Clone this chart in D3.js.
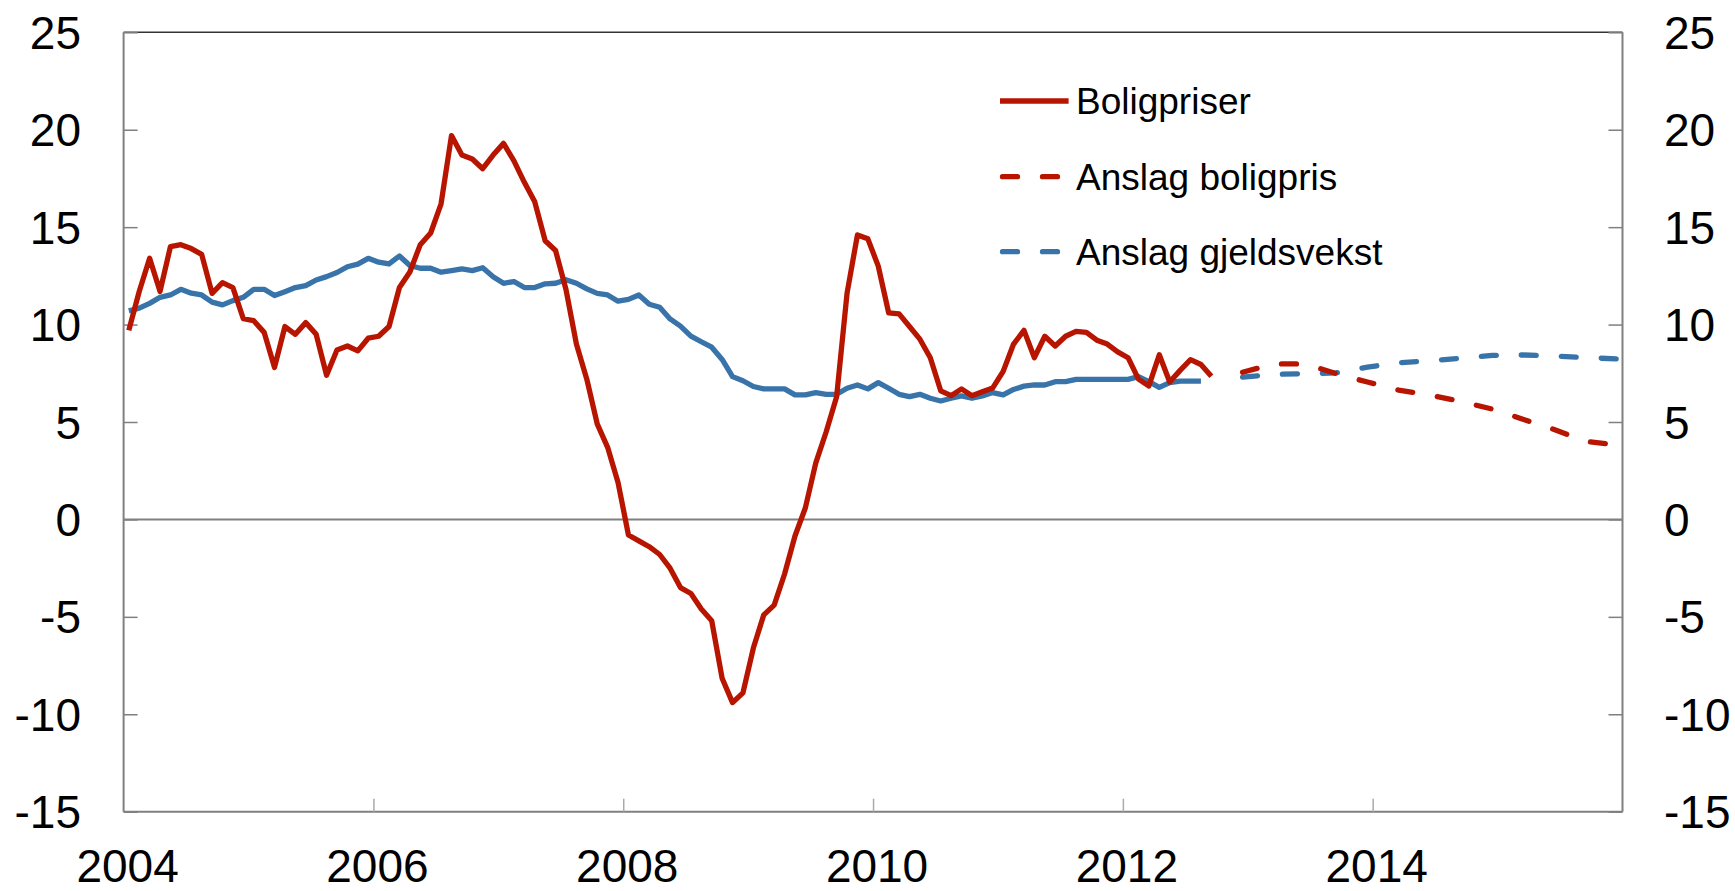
<!DOCTYPE html>
<html><head><meta charset="utf-8">
<script src="https://cdn.jsdelivr.net/npm/d3@7"></script>
<style>
body{margin:0;background:#fff}
svg{display:block}
text{font-family:"Liberation Sans",Arial,Helvetica,sans-serif}
</style>
</head><body>
<svg id="c" width="1735" height="891"></svg>
<script>
// ---- data (monthly, starting Jan 2004) ----
const startYear = 2004;
const boligpriser = [
  9.7, 11.7, 13.4, 11.7, 14.0, 14.1, 13.9, 13.6, 11.6, 12.15, 11.9, 10.3,
  10.2, 9.6, 7.8, 9.9, 9.5, 10.1, 9.5, 7.4, 8.7, 8.9, 8.65, 9.3,
  9.4, 9.9, 11.9, 12.7, 14.1, 14.7, 16.2, 19.7, 18.7, 18.5, 18.0, 18.7,
  19.3, 18.4, 17.3, 16.3, 14.3, 13.8, 11.8, 9.0, 7.2, 4.9, 3.7, 1.9,
  -0.8, -1.1, -1.4, -1.8, -2.5, -3.5, -3.8, -4.6, -5.2, -8.15, -9.4, -8.9,
  -6.6, -4.9, -4.4, -2.8, -0.85, 0.6, 2.9, 4.5, 6.3, 11.6, 14.6, 14.4,
  13.0, 10.6, 10.55, 9.9, 9.25, 8.3, 6.6, 6.35, 6.7, 6.35, 6.55, 6.75,
  7.6, 9.0, 9.7, 8.3, 9.4, 8.9, 9.4, 9.65, 9.6, 9.2, 9.0, 8.6,
  8.3, 7.2, 6.85, 8.45, 7.05, 7.65, 8.2, 7.95, 7.35
];
const gjeldsvekst = [
  10.7, 10.84, 11.09, 11.4, 11.52, 11.81, 11.61, 11.52, 11.15, 11.01, 11.23, 11.4,
  11.81, 11.81, 11.49, 11.69, 11.9, 12.0, 12.29, 12.46, 12.67, 12.97, 13.1, 13.4,
  13.2, 13.11, 13.52, 13.03, 12.89, 12.89, 12.69, 12.77, 12.86, 12.77, 12.92, 12.46,
  12.12, 12.21, 11.9, 11.9, 12.09, 12.12, 12.3, 12.12, 11.83, 11.6, 11.52, 11.2,
  11.29, 11.52, 11.04, 10.89, 10.29, 9.92, 9.41, 9.12, 8.84, 8.21, 7.33, 7.12,
  6.82, 6.7, 6.7, 6.7, 6.39, 6.39, 6.51, 6.42, 6.42, 6.73, 6.9, 6.7,
  7.02, 6.73, 6.42, 6.3, 6.42, 6.22, 6.08, 6.22, 6.34, 6.22, 6.34, 6.51,
  6.39, 6.67, 6.84, 6.9, 6.9, 7.07, 7.07, 7.19, 7.19, 7.19, 7.19, 7.19,
  7.19, 7.33, 7.07, 6.78, 7.02, 7.1, 7.1, 7.1
];
const forecastMonths = ["2012-12","2013-03","2013-06","2013-09","2013-12","2014-03","2014-06",
  "2014-09","2014-12","2015-03","2015-06","2015-09","2015-12"];
const anslagBoligpris   = [7.55, 7.98, 7.98, 7.48, 7.05, 6.64, 6.38, 6.05, 5.66, 5.13, 4.6, 4.0, 3.82];
const anslagGjeldsvekst = [7.3, 7.45, 7.48, 7.52, 7.82, 8.04, 8.14, 8.27, 8.42, 8.44, 8.38, 8.3, 8.24];
const xTickYears = [2004, 2006, 2008, 2010, 2012, 2014];
const yTicks = [-15, -10, -5, 0, 5, 10, 15, 20, 25];
const legendLabels = ["Boligpriser", "Anslag boligpris", "Anslag gjeldsvekst"];

// ---- layout ----
const RED = "#b81500", BLUE = "#3874aa", AXIS = "#808080";
const L = 123.6, R = 1622.5, T = 32.3, B = 811.7;
const svg = d3.select("#c");

const x = d3.scaleLinear().domain([0, 144]).range([L, R]);   // months since Jan 2004
const y = d3.scaleLinear().domain([-15, 25]).range([B, T]);

const monthIdx = s => { const [yy, mm] = s.split("-").map(Number); return (yy - startYear) * 12 + (mm - 1); };

// frame
svg.append("line").attr("x1", L).attr("x2", R).attr("y1", T).attr("y2", T)
  .attr("stroke", "#333").attr("stroke-width", 1.5);
svg.append("line").attr("x1", L).attr("x2", R).attr("y1", B).attr("y2", B)
  .attr("stroke", AXIS).attr("stroke-width", 2);
svg.append("line").attr("x1", L).attr("x2", L).attr("y1", T).attr("y2", B)
  .attr("stroke", AXIS).attr("stroke-width", 2);
svg.append("line").attr("x1", R).attr("x2", R).attr("y1", T).attr("y2", B)
  .attr("stroke", AXIS).attr("stroke-width", 2);

// zero line
svg.append("line").attr("x1", L).attr("x2", R).attr("y1", y(0)).attr("y2", y(0))
  .attr("stroke", AXIS).attr("stroke-width", 2);

// y axes (ticks inside)
const yl = svg.append("g").attr("transform", `translate(${L},0)`)
  .call(d3.axisRight(y).tickValues(yTicks).tickSize(14).tickFormat(""));
const yr = svg.append("g").attr("transform", `translate(${R},0)`)
  .call(d3.axisLeft(y).tickValues(yTicks).tickSize(14).tickFormat(""));
[yl, yr].forEach(g => {
  g.select(".domain").remove();
  g.selectAll(".tick line").attr("stroke", AXIS).attr("stroke-width", 1.5);
});

svg.append("g").selectAll("text").data(yTicks).join("text")
  .attr("x", 81).attr("y", d => y(d) + 16.5).attr("text-anchor", "end")
  .attr("font-size", 46).attr("fill", "#000").text(d => d);
svg.append("g").selectAll("text").data(yTicks).join("text")
  .attr("x", 1664).attr("y", d => y(d) + 16.5).attr("text-anchor", "start")
  .attr("font-size", 46).attr("fill", "#000").text(d => d);

// x axis (ticks pointing up)
const xTickVals = xTickYears.map(v => (v - startYear) * 12);
const xa = svg.append("g").attr("transform", `translate(0,${B})`)
  .call(d3.axisTop(x).tickValues(xTickVals.filter(v => v > 0)).tickSize(13).tickFormat(""));
xa.select(".domain").remove();
xa.selectAll(".tick line").attr("stroke", "#aaa").attr("stroke-width", 1.5);

svg.append("g").selectAll("text").data(xTickYears).join("text")
  .attr("x", d => x((d - startYear) * 12) + 4).attr("y", 882).attr("text-anchor", "middle")
  .attr("font-size", 46).attr("fill", "#000").text(d => d);

// lines
const line = d3.line().x(d => x(d[0] + 0.5)).y(d => y(d[1]));
const bp = boligpriser.map((v, i) => [i, v]);
const gv = gjeldsvekst.map((v, i) => [i, v]);
const fbp = forecastMonths.map((m, i) => [monthIdx(m), anslagBoligpris[i]]);
const fgv = forecastMonths.map((m, i) => [monthIdx(m), anslagGjeldsvekst[i]]);

const LW = 5.3;
svg.append("path").datum(gv).attr("d", line).attr("fill", "none")
  .attr("stroke", BLUE).attr("stroke-width", LW).attr("stroke-linejoin", "round");
svg.append("path").datum(bp).attr("d", line).attr("fill", "none")
  .attr("stroke", RED).attr("stroke-width", LW).attr("stroke-linejoin", "round");
svg.append("path").datum(fgv).attr("d", line).attr("fill", "none")
  .attr("stroke", BLUE).attr("stroke-width", LW).attr("stroke-dasharray", "15,25")
  .attr("stroke-linecap", "round");
svg.append("path").datum(fbp).attr("d", line).attr("fill", "none")
  .attr("stroke", RED).attr("stroke-width", LW).attr("stroke-dasharray", "15,25")
  .attr("stroke-linecap", "round");

// legend
const legY = [101, 176.7, 251.7];
const legColor = [RED, RED, BLUE];
const legDash = [null, "15,25", "15,25"];
legendLabels.forEach((lab, i) => {
  const ln = svg.append("line").attr("y1", legY[i]).attr("y2", legY[i])
    .attr("stroke", legColor[i]).attr("stroke-width", LW);
  if (legDash[i]) {
    ln.attr("x1", 1002.5).attr("x2", 1057.5).attr("stroke-dasharray", legDash[i]).attr("stroke-linecap", "round");
  } else {
    ln.attr("x1", 1000).attr("x2", 1068.6);
  }
  svg.append("text").attr("x", 1076).attr("y", legY[i] + 13.3)
    .attr("font-size", 37).attr("fill", "#000").text(lab);
});
</script>
</body></html>
